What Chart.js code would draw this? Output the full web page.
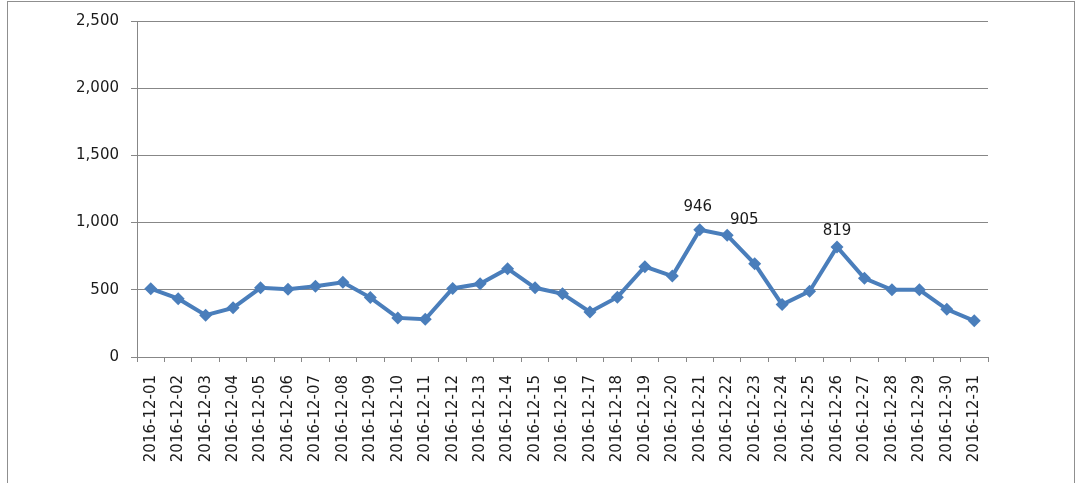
<!DOCTYPE html>
<html>
<head>
<meta charset="utf-8">
<script src="https://cdn.jsdelivr.net/npm/chart.js@4/dist/chart.umd.min.js"></script>
<style>
  html, body { margin: 0; padding: 0; background: #fff; }
  #wrap { width: 1077px; height: 483px; }
</style>
</head>
<body>
<div id="wrap"><canvas id="dailyChart" width="1077" height="483"></canvas></div>
<script>
const dates = [
  '2016-12-01', '2016-12-02', '2016-12-03', '2016-12-04', '2016-12-05', '2016-12-06',
  '2016-12-07', '2016-12-08', '2016-12-09', '2016-12-10', '2016-12-11', '2016-12-12',
  '2016-12-13', '2016-12-14', '2016-12-15', '2016-12-16', '2016-12-17', '2016-12-18',
  '2016-12-19', '2016-12-20', '2016-12-21', '2016-12-22', '2016-12-23', '2016-12-24',
  '2016-12-25', '2016-12-26', '2016-12-27', '2016-12-28', '2016-12-29', '2016-12-30',
  '2016-12-31'
];
const counts = [
  508, 434, 311, 366, 515, 505, 527, 556, 442, 291, 281, 510,
  545, 657, 515, 470, 335, 445, 672, 602, 946, 905, 693, 390,
  489, 819, 586, 500, 500, 355, 269
];
// only these points carry a value label in the original
const labelledDays = [20, 21, 25];
const yTicks = [0, 500, 1000, 1500, 2000, 2500];

const lineBlue = '#4a7ebb';
const gridGrey = '#878787';
const textColor = '#1a1a1a';
const fontFamily = '"DejaVu Sans", Verdana, sans-serif';

// frame round the whole chart, like the spreadsheet chart object
const framePlugin = {
  id: 'frame',
  beforeDraw(chart) {
    const ctx = chart.ctx;
    ctx.save();
    ctx.strokeStyle = '#8f8f8f';
    ctx.lineWidth = 1;
    ctx.strokeRect(7.5, 1.5, 1067, 495);
    ctx.restore();
  }
};

// value labels above a few of the points
const valueLabels = {
  id: 'valueLabels',
  afterDatasetsDraw(chart) {
    const ctx = chart.ctx;
    const meta = chart.getDatasetMeta(0);
    ctx.save();
    ctx.font = '15px ' + fontFamily;
    ctx.fillStyle = textColor;
    ctx.textAlign = 'center';
    ctx.textBaseline = 'middle';
    labelledDays.forEach((i) => {
      const pt = meta.data[i];
      let dx = 0, dy = -16;
      if (i === 20) { dx = -2; dy = -23; }
      if (i === 21) { dx = 17; dy = -15; }
      ctx.fillText(String(counts[i]), pt.x + dx, pt.y + dy);
    });
    ctx.restore();
  }
};

new Chart(document.getElementById('dailyChart'), {
  type: 'line',
  data: {
    labels: dates,
    datasets: [{
      data: counts,
      borderColor: lineBlue,
      backgroundColor: lineBlue,
      borderWidth: 4,
      pointStyle: 'rectRot',
      pointRadius: 6.5,
      pointHoverRadius: 6.5,
      pointBorderWidth: 0,
      tension: 0,
      fill: false,
    }],
  },
  options: {
    responsive: false,
    animation: false,
    layout: { padding: { left: 0, top: 19, right: 89, bottom: 0 } },
    plugins: {
      legend: { display: false },
      tooltip: { enabled: false },
    },
    scales: {
      x: {
        offset: true,
        grid: { drawOnChartArea: false, offset: true, tickLength: 5, color: gridGrey },
        border: { display: true, color: gridGrey, width: 1 },
        ticks: {
          autoSkip: false,
          minRotation: 90,
          maxRotation: 90,
          padding: 13,
          color: textColor,
          font: { family: fontFamily, size: 15 },
        },
        afterFit(scale) { scale.height = 126; },
      },
      y: {
        min: 0,
        max: 2500,
        afterBuildTicks(scale) { scale.ticks = yTicks.map((v) => ({ value: v })); },
        grid: { color: gridGrey, tickLength: 6 },
        border: { display: true, color: gridGrey, width: 1 },
        ticks: {
          padding: 12,
          color: textColor,
          font: { family: fontFamily, size: 15 },
          callback: (v) => Number(v).toLocaleString('en-US'),
        },
        afterFit(scale) { scale.width = 137; },
      },
    },
  },
  plugins: [framePlugin, valueLabels],
});
</script>
</body>
</html>
